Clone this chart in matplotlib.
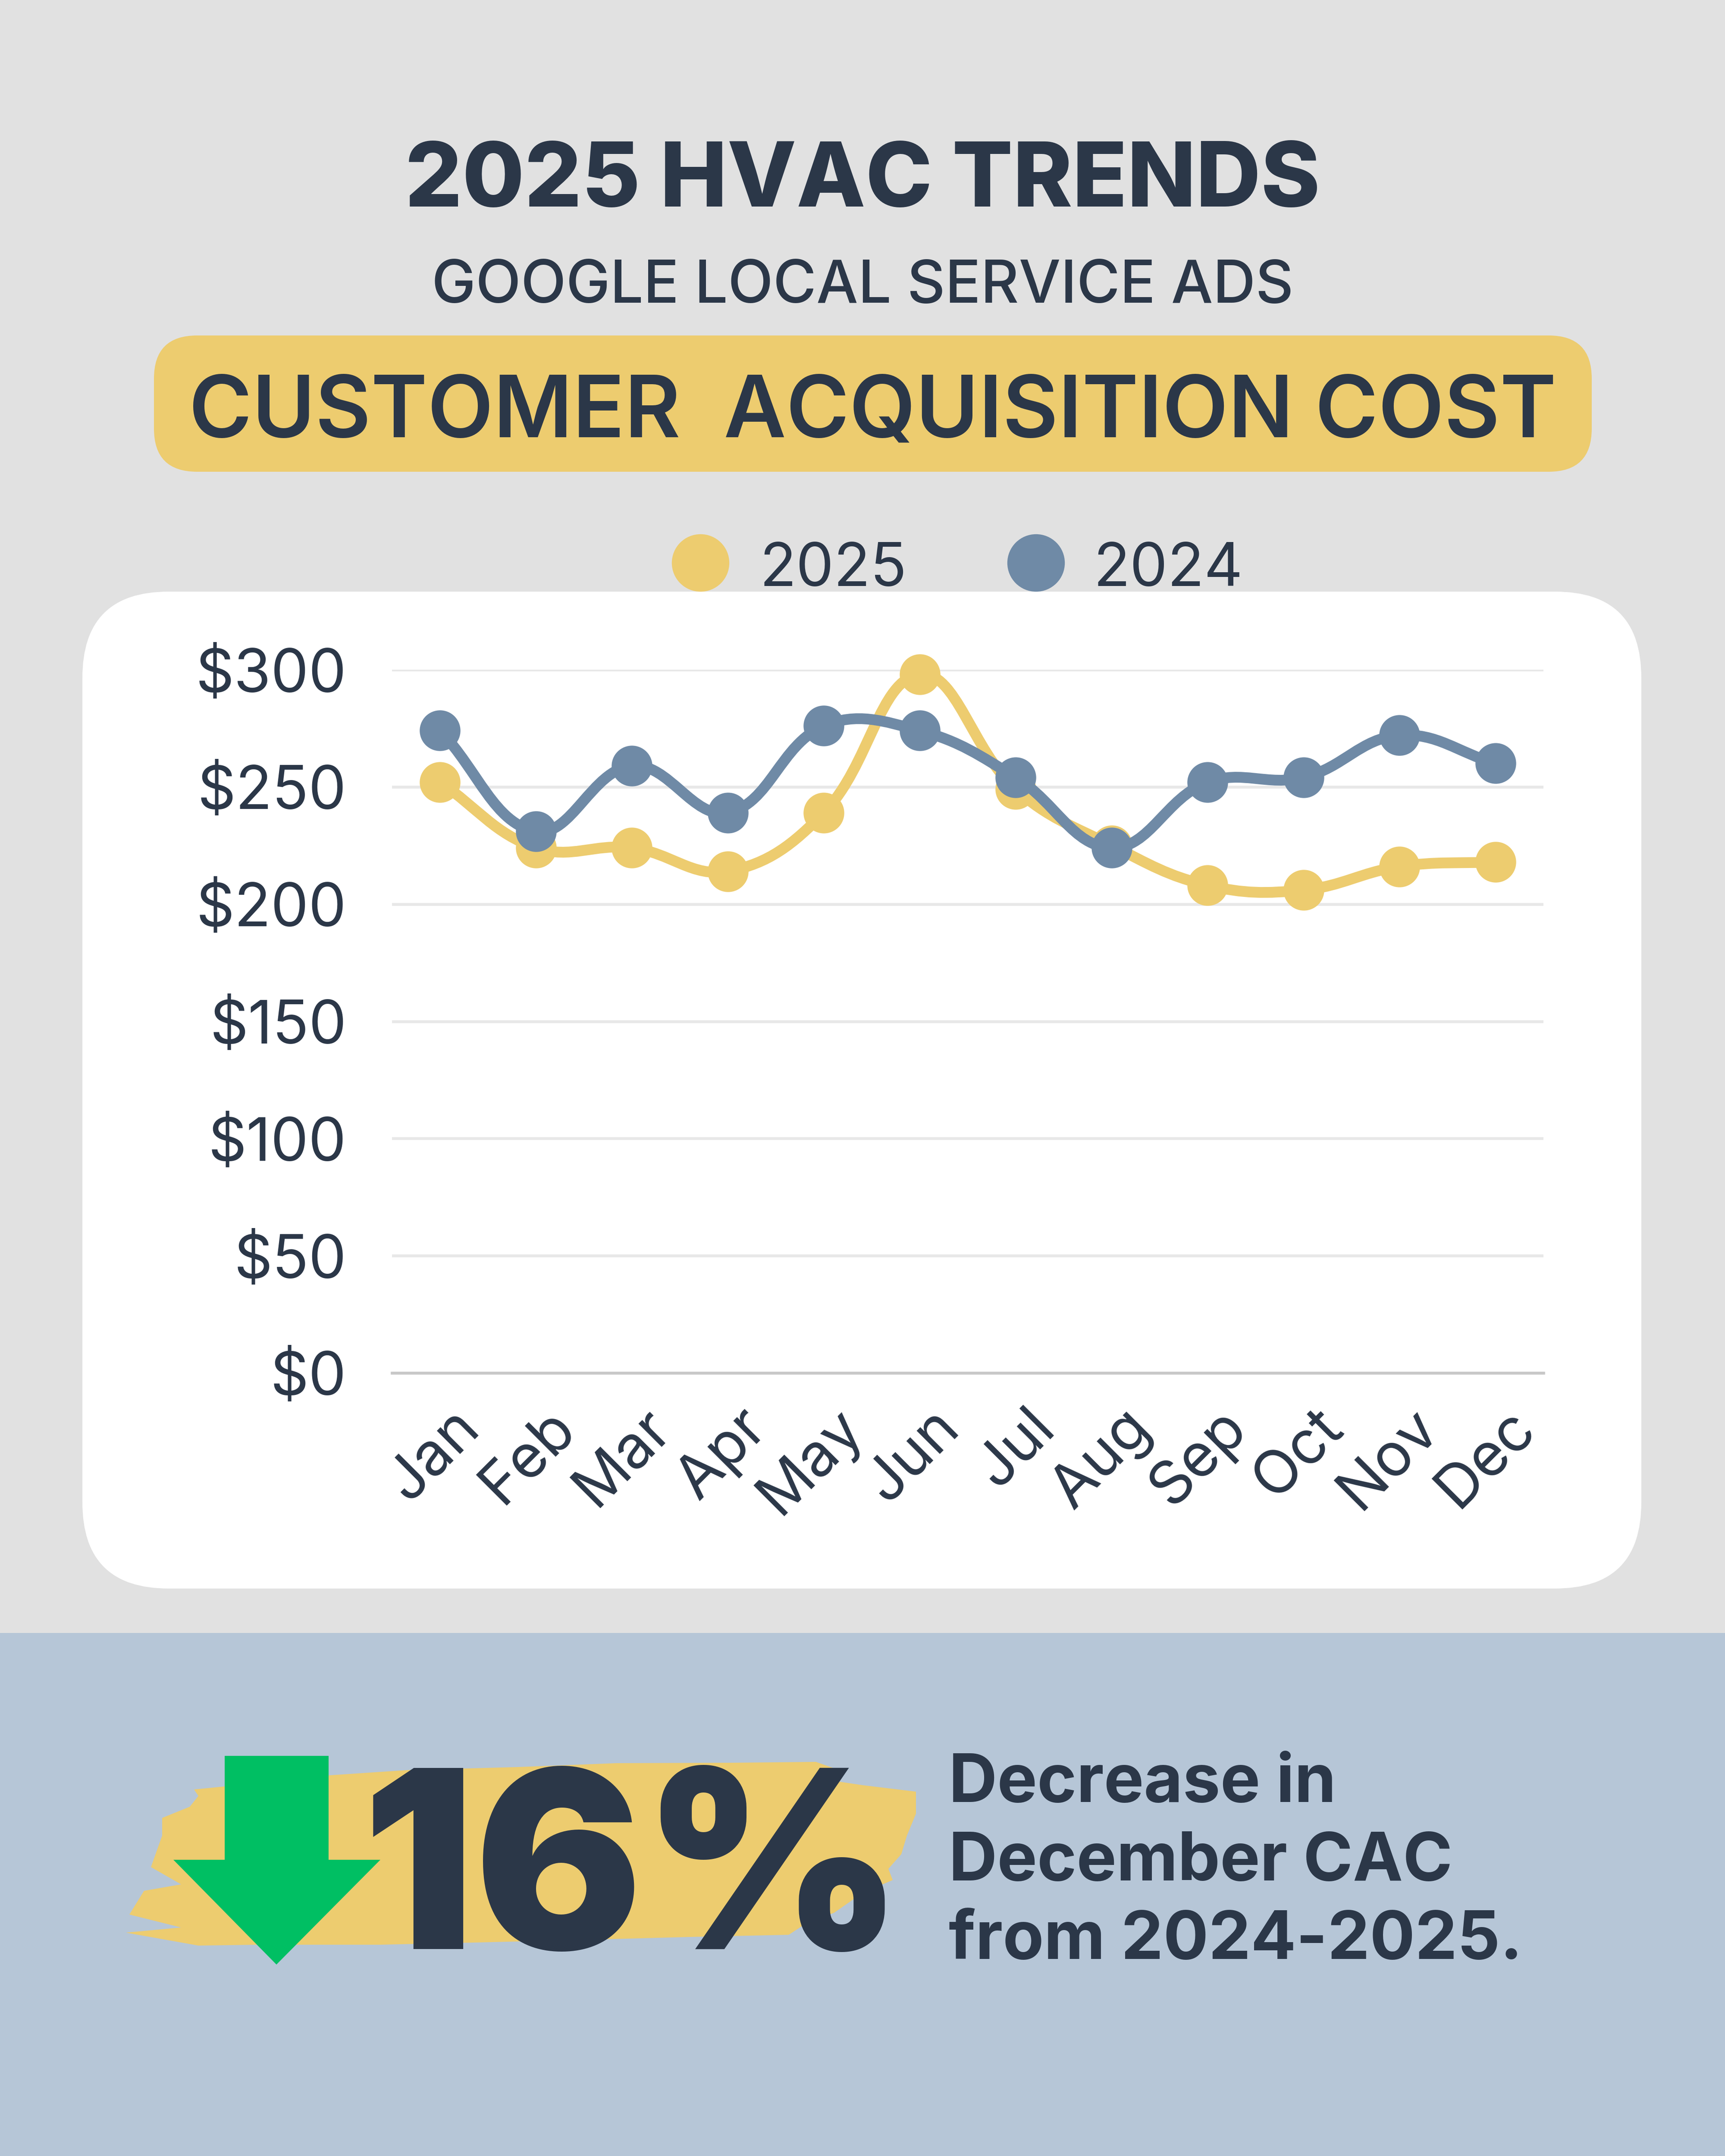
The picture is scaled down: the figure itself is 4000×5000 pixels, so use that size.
import matplotlib.pyplot as plt
import numpy as np
from matplotlib.path import Path
from matplotlib.patches import PathPatch, Rectangle, FancyBboxPatch, Polygon
from matplotlib.transforms import ScaledTranslation

months = ["Jan", "Feb", "Mar", "Apr", "May", "Jun",
          "Jul", "Aug", "Sep", "Oct", "Nov", "Dec"]
cac_2025 = [252, 224, 224, 214, 239, 298, 249, 225, 208, 206, 216, 218]
cac_2024 = [274, 231, 259, 239, 276, 274, 254, 224, 252, 254, 272, 260]
y_ticks = [0, 50, 100, 150, 200, 250, 300]

DARK = "#2b3748"
YELLOW = "#edcc6f"
BLUE = "#6f8aa6"
FONT = ["Inter", "DejaVu Sans"]

plt.rcParams['font.family'] = FONT

fig = plt.figure(figsize=(10, 12.5), dpi=400)

# background in pixel coordinates (y down)
bg = fig.add_axes([0, 0, 1, 1], zorder=0)
bg.set_xlim(0, 4000)
bg.set_ylim(5000, 0)
bg.axis("off")
bg.add_patch(Rectangle((0, 0), 4000, 3787, color="#e1e1e1", lw=0))
bg.add_patch(Rectangle((0, 3787), 4000, 1213, color="#b6c6d7", lw=0))
bg.add_patch(FancyBboxPatch((191, 1372), 3615, 2312,
                            boxstyle="round,pad=0,rounding_size=200",
                            fc="white", ec="none"))
bg.add_patch(FancyBboxPatch((357, 778), 3334, 316,
                            boxstyle="round,pad=0,rounding_size=100",
                            fc=YELLOW, ec="none"))

bg.text(2000, 479, "2025 HVAC TRENDS", ha="center", va="baseline",
        fontsize=37.5, fontweight="heavy", color=DARK)
bg.text(2000, 702, "GOOGLE LOCAL SERVICE ADS", ha="center", va="baseline",
        fontsize=24.6, fontweight="medium", color=DARK)
bg.text(2024, 1014, "CUSTOMER  ACQUISITION COST", ha="center", va="baseline",
        fontsize=35.8, fontweight="semibold", color=DARK)

# legend
for cx, tx, col, lab in [(1624, 1761, YELLOW, "2025"), (2402, 2536, BLUE, "2024")]:
    bg.plot([cx], [1305], "o", ms=24, color=col, mec="none")
    bg.text(tx, 1359, lab, ha="left", va="baseline", fontsize=25, color=DARK)

# brush stroke behind the number
brush = [(460, 4165), (450, 4150), (600, 4135), (766, 4117), (945, 4105),
         (1200, 4098), (1429, 4089), (1700, 4088), (1892, 4086), (1960, 4110),
         (1900, 4125), (2000, 4140), (2124, 4155), (2124, 4206), (2103, 4257),
         (2090, 4300), (2060, 4334), (2070, 4360), (2000, 4390), (1934, 4436),
         (1870, 4460), (1829, 4487), (1600, 4492), (1303, 4500), (1100, 4505),
         (882, 4510), (600, 4510), (460, 4512), (292, 4482), (420, 4470),
         (300, 4440), (334, 4385), (420, 4370), (350, 4330), (376, 4257),
         (376, 4216), (440, 4190)]
bg.add_patch(Polygon(brush, closed=True, fc=YELLOW, ec="none"))

arrow = [(521, 4072), (762, 4072), (762, 4313), (882, 4313), (641, 4556),
         (402, 4313), (521, 4313)]
bg.add_patch(Polygon(arrow, closed=True, fc="#00bf63", ec="none"))

bg.text(840, 4520, "16%", ha="left", va="baseline", fontsize=104,
        fontweight="black", color=DARK)
for i, line in enumerate(["Decrease in", "December CAC", "from 2024-2025."]):
    bg.text(2200, 4179 + i * 182, line, ha="left", va="baseline",
            fontsize=28, fontweight="bold", color=DARK)

# chart
ax = fig.add_axes([0.2273, 0.3632, 0.6675, 0.3262], zorder=2)
ax.patch.set_alpha(0)
x = np.arange(len(months))


def smooth_path(xs, ys, tension=0.4, yscale=1 / 41.0):
    # Chart.js style spline through the points (control points only)
    pts = np.column_stack([xs, np.asarray(ys, float) * yscale])
    n = len(pts)
    verts = [pts[0]]
    codes = [Path.MOVETO]
    cps = []
    for i in range(n):
        prev = pts[max(i - 1, 0)]
        nxt = pts[min(i + 1, n - 1)]
        d01 = np.hypot(*(pts[i] - prev))
        d12 = np.hypot(*(nxt - pts[i]))
        s = d01 + d12 if d01 + d12 > 0 else 1
        fa = tension * d01 / s
        fb = tension * d12 / s
        cps.append((pts[i] - fa * (nxt - prev), pts[i] + fb * (nxt - prev)))
    for i in range(n - 1):
        verts += [cps[i][1], cps[i + 1][0], pts[i + 1]]
        codes += [Path.CURVE4] * 3
    verts = np.array(verts)
    verts[:, 1] /= yscale
    return Path(verts, codes)


for vals, col, z in [(cac_2025, YELLOW, 3), (cac_2024, BLUE, 4)]:
    ax.add_patch(PathPatch(smooth_path(x, vals), fc="none", ec=col, lw=4.5,
                           capstyle="round", joinstyle="round", zorder=z,
                           clip_on=False))
    ax.plot(x, vals, "o", ms=17, color=col, mec="none", zorder=z + 0.5,
            clip_on=False)

ax.set_xlim(-0.5, 11.5)
ax.set_ylim(0, 300)
ax.set_yticks(y_ticks)
ax.set_yticklabels([f"${v}" for v in y_ticks])
ax.set_xticks(x)
ax.set_xticklabels(months, rotation=45, ha="right", va="top",
                   rotation_mode="anchor")
ax.tick_params(length=0, labelsize=25, colors=DARK)
ax.tick_params(axis="y", pad=19)
ax.tick_params(axis="x", pad=11)
offset = ScaledTranslation(0.06, 0, fig.dpi_scale_trans)
for lab in ax.get_xticklabels():
    lab.set_transform(lab.get_transform() + offset)
ax.grid(axis="y", color="#e8e8e8", lw=1.2)
ax.set_axisbelow(True)
for side in ["top", "right", "left"]:
    ax.spines[side].set_visible(False)
ax.spines["bottom"].set_color("#c8c8c8")
ax.spines["bottom"].set_linewidth(1.2)

fig.savefig("out.png", dpi=400)
